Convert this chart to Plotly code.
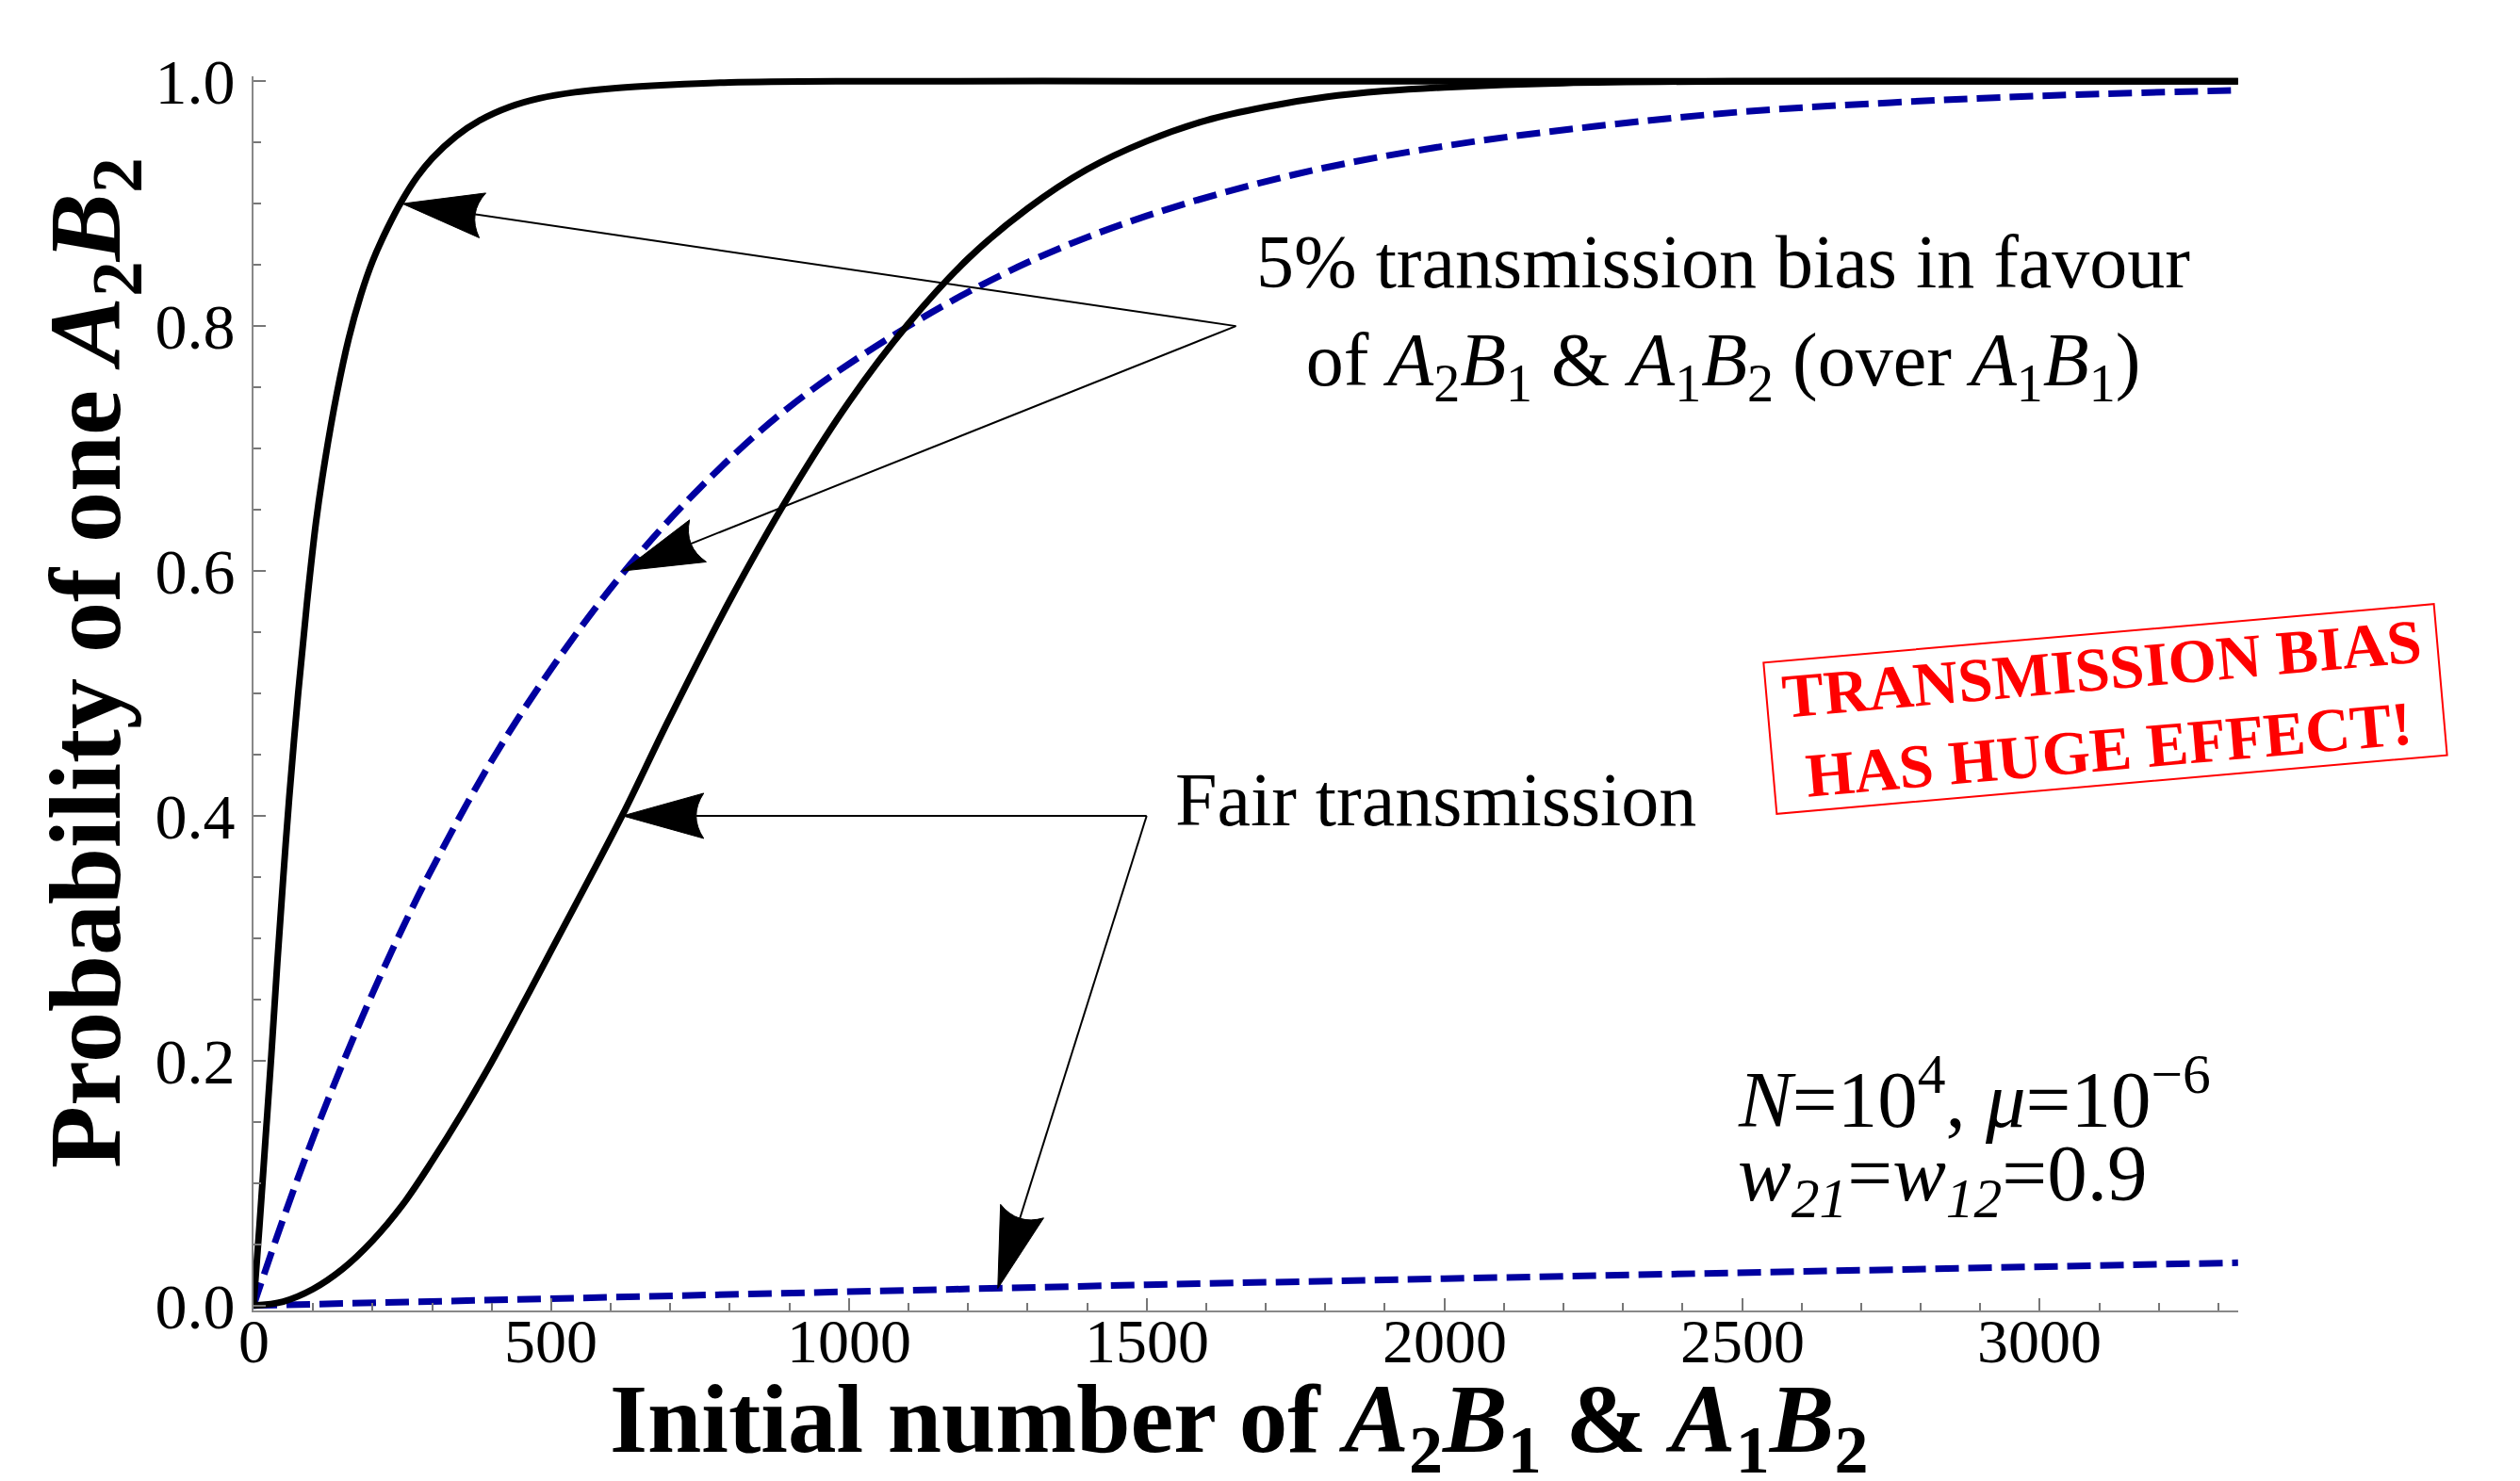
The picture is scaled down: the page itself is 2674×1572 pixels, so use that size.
import math
import plotly.graph_objects as go

# ---------------- data ----------------
x_bias_solid = [0, 10, 20, 30, 40, 50, 60, 75, 90, 105, 120, 140, 160, 180, 200, 225, 250, 275, 300, 340, 380, 430, 480, 540, 600, 700, 800, 1000, 1500, 2000, 2500, 3000, 3333]
y_bias_solid = [0, 0.065, 0.135, 0.205, 0.28, 0.35, 0.415, 0.50, 0.575, 0.64, 0.69, 0.745, 0.79, 0.825, 0.853, 0.88, 0.903, 0.922, 0.937, 0.955, 0.968, 0.979, 0.986, 0.991, 0.994, 0.997, 0.999, 1.0, 1.0, 1.0, 1.0, 1.0, 1.0]

x_bias_dash = [0, 50, 100, 150, 200, 250, 300, 400, 500, 620, 750, 900, 1100, 1300, 1500, 1750, 2000, 2250, 2500, 2750, 3000, 3333]
y_bias_dash = [0, 0.071, 0.137, 0.198, 0.255, 0.308, 0.357, 0.445, 0.52, 0.598, 0.668, 0.734, 0.80, 0.852, 0.89, 0.924, 0.947, 0.963, 0.975, 0.9825, 0.988, 0.9926]

x_fair_solid = [0, 50, 100, 150, 200, 250, 300, 350, 400, 450, 500, 560, 620, 700, 800, 900, 1000, 1100, 1200, 1300, 1400, 1500, 1600, 1700, 1800, 1900, 2000, 2200, 2500, 3000, 3333]
y_fair_solid = [0, 0.0033, 0.0135, 0.030, 0.053, 0.082, 0.118, 0.157, 0.199, 0.244, 0.290, 0.345, 0.401, 0.481, 0.576, 0.662, 0.738, 0.802, 0.855, 0.896, 0.928, 0.951, 0.968, 0.979, 0.987, 0.992, 0.995, 0.9985, 1.0, 1.0, 1.0]

x_fair_dash = [0, 500, 1000, 1500, 2000, 2500, 3000, 3333]
y_fair_dash = [0, 0.006, 0.0115, 0.017, 0.022, 0.027, 0.032, 0.035]

x_tick_vals = [0, 500, 1000, 1500, 2000, 2500, 3000]
x_tick_text = ["0", "500", "1000", "1500", "2000", "2500", "3000"]
y_tick_vals = [0.0, 0.2, 0.4, 0.6, 0.8, 1.0]
y_tick_text = ["0.0", "0.2", "0.4", "0.6", "0.8", "1.0"]

# arrows: (tail, tip) in data coordinates
arrows = [
    ((1650, 0.8), (250, 0.9)),
    ((1650, 0.8), (620, 0.6)),
    ((1500, 0.4), (620, 0.4)),
    ((1500, 0.4), (1250, 0.014)),
]

# ---------------- geometry ----------------
W, H = 2674, 1572
ML, MR, MT, MB = 261, 307, 73, 189
PW, PH = W - ML - MR, H - MT - MB
XR = [0, 10000 / 3]
YR = [-0.004, 1.004]
sx = PW / (XR[1] - XR[0])
sy = PH / (YR[1] - YR[0])

FONT = "Liberation Serif"
BLUE = "#0000A0"

fig = go.Figure()
common = dict(mode="lines", hoverinfo="skip", showlegend=False)
fig.add_trace(go.Scatter(x=x_fair_dash, y=y_fair_dash, line=dict(color=BLUE, width=7, dash="25px,10px"), **common))
fig.add_trace(go.Scatter(x=x_bias_dash, y=y_bias_dash, line=dict(color=BLUE, width=7, dash="25px,10px", shape="spline", smoothing=1.0), **common))
fig.add_trace(go.Scatter(x=x_fair_solid, y=y_fair_solid, line=dict(color="black", width=7, shape="spline", smoothing=1.0), **common))
fig.add_trace(go.Scatter(x=x_bias_solid, y=y_bias_solid, line=dict(color="black", width=7, shape="spline", smoothing=1.0), **common))

# ---------------- arrows (lines + concave arrowheads) ----------------
shapes = []
L_HEAD, HALF_W, NOTCH = 86, 24, 78
for tail, tip in arrows:
    tx, ty = tip[0] * sx, -tip[1] * sy
    bx, by = tail[0] * sx, -tail[1] * sy
    dx, dy = bx - tx, by - ty
    d = math.hypot(dx, dy)
    ux, uy = dx / d, dy / d
    vx, vy = -uy, ux
    c1 = (tx + L_HEAD * ux + HALF_W * vx, ty + L_HEAD * uy + HALF_W * vy)
    c2 = (tx + L_HEAD * ux - HALF_W * vx, ty + L_HEAD * uy - HALF_W * vy)
    cq = 2 * NOTCH - L_HEAD
    ctrl = (tx + cq * ux, ty + cq * uy)
    notch = (tx + NOTCH * ux, ty + NOTCH * uy)

    def dc(p):
        return f"{p[0] / sx:.4f},{-p[1] / sy:.6f}"

    path = f"M {dc((tx, ty))} L {dc(c1)} Q {dc(ctrl)} {dc(c2)} Z"
    shapes.append(dict(type="line", xref="x", yref="y", x0=tail[0], y0=tail[1],
                       x1=notch[0] / sx, y1=-notch[1] / sy, line=dict(color="black", width=2)))
    shapes.append(dict(type="path", xref="x", yref="y", path=path, fillcolor="black",
                       line=dict(color="black", width=1)))

# ---------------- annotations ----------------
def px2paper(px, py):
    return (px - ML) / PW, (MT + PH - py) / PH

ann = []
# x tick labels (placed as text under the axis)
_, xl_y = px2paper(0, 1415)
for v, t in zip(x_tick_vals, x_tick_text):
    ann.append(dict(xref="x", yref="paper", x=v, y=xl_y, xanchor="center", yanchor="middle",
                    showarrow=False, text=t, font=dict(family=FONT, size=66, color="black")))

xt_x, xt_y = px2paper(1307, 1506)
ann.append(dict(xref="paper", yref="paper", x=xt_x, y=xt_y, xanchor="center", yanchor="middle",
                showarrow=False,
                text="<b>Initial number of <i>A</i><sub>2</sub><i>B</i><sub>1</sub> &amp; <i>A</i><sub>1</sub><i>B</i><sub>2</sub></b>",
                font=dict(family=FONT, size=103, color="black")))
yt_x, yt_y = px2paper(90, 696)
ann.append(dict(xref="paper", yref="paper", x=yt_x, y=yt_y, xanchor="center", yanchor="middle",
                showarrow=False, textangle=-90,
                text="<b>Probability of one <i>A</i><sub>2</sub><i>B</i><sub>2</sub></b>",
                font=dict(family=FONT, size=108, color="black")))
ann.append(dict(xref="x", yref="y", x=2468, y=0.808, xanchor="center", yanchor="middle", showarrow=False,
                align="center",
                text="5% transmission bias in favour<br>of <i>A</i><sub>2</sub><i>B</i><sub>1</sub> &amp; <i>A</i><sub>1</sub><i>B</i><sub>2</sub> (over <i>A</i><sub>1</sub><i>B</i><sub>1</sub>)",
                font=dict(family=FONT, size=80, color="black")))
ann.append(dict(xref="x", yref="y", x=1986, y=0.413, xanchor="center", yanchor="middle", showarrow=False,
                text="Fair transmission", font=dict(family=FONT, size=80, color="black")))
ann.append(dict(xref="x", yref="y", x=2490, y=0.173, xanchor="left", yanchor="middle", showarrow=False,
                text="<i>N</i>=10<sup>4</sup>, <i>μ</i>=10<sup>−6</sup>",
                font=dict(family=FONT, size=85, color="black")))
ann.append(dict(xref="x", yref="y", x=2490, y=0.103, xanchor="left", yanchor="middle", showarrow=False,
                text="<i>w</i><sub><i>21</i></sub>=<i>w</i><sub><i>12</i></sub>=0.9",
                font=dict(family=FONT, size=85, color="black")))
ann.append(dict(xref="x", yref="y", x=3110, y=0.487, xanchor="center", yanchor="middle", showarrow=False,
                textangle=-5.0, width=712, borderpad=0, bordercolor="red", borderwidth=2, bgcolor="white",
                text="<b>TRANSMISSION BIAS<br>HAS HUGE EFFECT!</b>",
                font=dict(family=FONT, size=66, color="red")))

fig.update_layout(
    width=W, height=H,
    margin=dict(l=ML, r=MR, t=MT, b=MB, autoexpand=False),
    paper_bgcolor="white", plot_bgcolor="white",
    showlegend=False,
    font=dict(family=FONT, color="black"),
    shapes=shapes, annotations=ann,
)
fig.update_xaxes(
    range=XR, tickmode="array", tickvals=x_tick_vals, ticktext=x_tick_text, showticklabels=False,
    ticks="inside", ticklen=13, tickwidth=2, tickcolor="#777777",
    showline=True, linecolor="#888888", linewidth=2,
    showgrid=False, zeroline=False,
    minor=dict(tick0=0, dtick=100, ticks="inside", ticklen=8, tickwidth=2, tickcolor="#777777", showgrid=False),
)
fig.update_yaxes(
    range=YR, tickmode="array", tickvals=y_tick_vals, ticktext=y_tick_text,
    ticks="inside", ticklen=13, tickwidth=2, tickcolor="#777777",
    showline=True, linecolor="#888888", linewidth=2,
    showgrid=False, zeroline=False,
    minor=dict(tick0=0, dtick=0.05, ticks="inside", ticklen=8, tickwidth=2, tickcolor="#777777", showgrid=False),
    tickfont=dict(family=FONT, size=68, color="black"), ticklabelstandoff=4,
)

fig.write_html("out.html")
